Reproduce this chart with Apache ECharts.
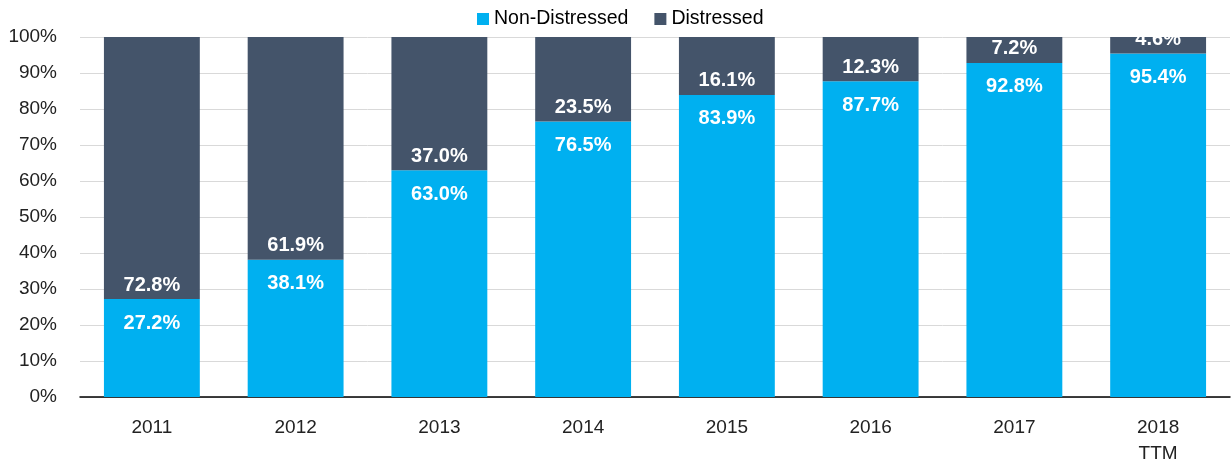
<!DOCTYPE html>
<html>
<head>
<meta charset="utf-8">
<script src="https://cdn.jsdelivr.net/npm/echarts@6/dist/echarts.min.js"></script>
<style>
  html, body { margin: 0; padding: 0; background: #fff; }
  #chart { width: 1231px; height: 465px; }
</style>
</head>
<body>
<div id="chart"></div>
<script>
const categories = ['2011', '2012', '2013', '2014', '2015', '2016', '2017', '2018\nTTM']
const nonDistressed = [27.2, 38.1, 63.0, 76.5, 83.9, 87.7, 92.8, 95.4]
const distressed = [72.8, 61.9, 37.0, 23.5, 16.1, 12.3, 7.2, 4.6]

const fontFam = '"Liberation Sans", Arial, sans-serif'

const labelStyle = {
  show: true,
  color: '#fff',
  fontWeight: 'bold',
  fontSize: 20,
  fontFamily: fontFam,
  formatter: p => p.value.toFixed(1) + '%'
}

const option = {
  animation: false,
  grid: { left: 80, right: 1, top: 37, bottom: 68, outerBoundsMode: 'none' },
  legend: {
    top: 4,
    left: 472,
    itemWidth: 12,
    itemHeight: 12,
    itemGap: 26,
    icon: 'rect',
    textStyle: { fontSize: 19.5, color: '#000', fontFamily: fontFam },
    data: ['Non-Distressed', 'Distressed']
  },
  xAxis: {
    type: 'category',
    data: categories,
    axisTick: { show: false },
    axisLine: { lineStyle: { color: '#000', width: 1.5 } },
    axisLabel: { color: '#222', fontSize: 19, fontFamily: fontFam, margin: 18, lineHeight: 26 }
  },
  yAxis: {
    type: 'value',
    min: 0,
    max: 100,
    interval: 10,
    axisLabel: { color: '#222', fontSize: 19, fontFamily: fontFam, margin: 23, formatter: '{value}%' },
    splitLine: { lineStyle: { color: '#d9d9d9' } }
  },
  series: [
    {
      name: 'Non-Distressed',
      type: 'bar',
      stack: 'total',
      barCategoryGap: '33.3%',
      itemStyle: { color: '#00B0F0' },
      label: Object.assign({}, labelStyle, { position: 'insideTop', distance: 14 }),
      data: nonDistressed
    },
    {
      name: 'Distressed',
      type: 'bar',
      stack: 'total',
      itemStyle: { color: '#44546A' },
      label: Object.assign({}, labelStyle, { position: 'insideBottom', distance: 4 }),
      data: distressed
    }
  ]
}

const myChart = echarts.init(document.getElementById('chart'))
myChart.setOption(option)
</script>
</body>
</html>
